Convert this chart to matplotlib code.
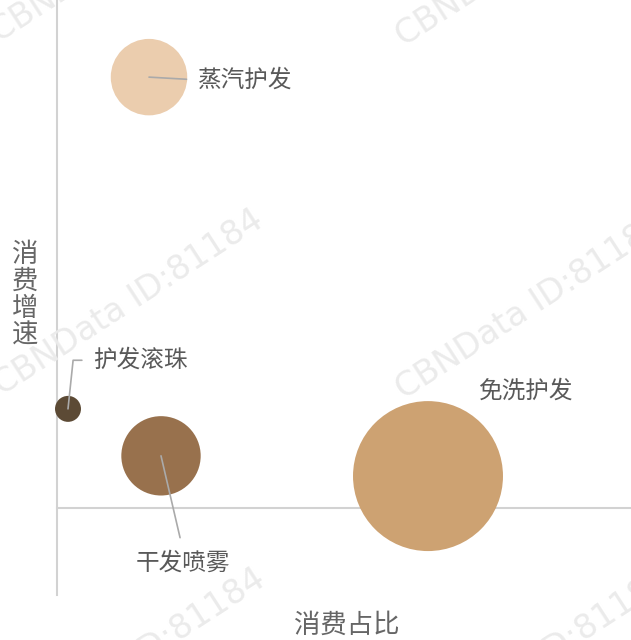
import numpy as np
import matplotlib.pyplot as plt

plt.rcParams['font.family'] = ['Noto Sans CJK SC', 'DejaVu Sans']

# bubble data
categories = ['蒸汽护发', '护发滚珠', '干发喷雾', '免洗护发']
share = [9.2, 1.1, 10.4, 37.1]        # 消费占比
growth = [100, 23, 12.1, 7.4]         # 消费增速
volume = [26, 3, 28, 100]             # bubble size
colors = ['#ebcdae', '#5c4a35', '#98714d', '#cda272']

fig = plt.figure(figsize=(6.31, 6.40), dpi=100)
ax = fig.add_axes([57 / 631, 45 / 640, 574 / 631, 595 / 640])

# watermarks (partly outside the canvas, as in the source image)
for cx, cy in [(125, -50), (530, -46), (128, 303), (530, 307), (130, 662), (535, 662)]:
    fig.text(cx / 631, 1 - cy / 640, 'CBNData ID:81184', rotation=33,
             fontsize=24, color='#ebebeb', ha='center', va='center',
             family='DejaVu Sans', zorder=0)

ax.scatter(share, growth, s=np.array(volume) * 116.6, c=colors,
           linewidths=0, zorder=3, clip_on=False)

ax.set_xlim(0, 57.4)
ax.set_ylim(-20.2, 117.9)
ax.set_xticks([])
ax.set_yticks([])
for side in ['top', 'right']:
    ax.spines[side].set_visible(False)
ax.spines['bottom'].set_position(('data', 0))
for side in ['left', 'bottom']:
    ax.spines[side].set_color('#d2d2d2')
    ax.spines[side].set_linewidth(1.5)
ax.patch.set_alpha(0)

lead = dict(arrowstyle='-', color='#aaaaaa', lw=1.2)
txt = dict(fontsize=17, color='#595959', textcoords='offset points', zorder=5)

# 蒸汽护发
ax.annotate(categories[0], xy=(share[0], growth[0]), xytext=(35, -2),
            ha='left', va='center',
            arrowprops=dict(lead, relpos=(0, 0.5), shrinkA=6, shrinkB=0), **txt)
# 护发滚珠
ax.annotate(categories[1], xy=(share[1], growth[1]), xytext=(18, 35),
            ha='left', va='center',
            arrowprops=dict(lead, relpos=(0, 0.5), shrinkA=6, shrinkB=0,
                            connectionstyle='angle,angleA=0,angleB=84,rad=0'), **txt)
# 干发喷雾
ax.annotate(categories[2], xy=(share[2], growth[2]), xytext=(16, -77),
            ha='center', va='center',
            arrowprops=dict(lead, relpos=(0.5, 1), shrinkA=8, shrinkB=0), **txt)
# 免洗护发
ax.annotate(categories[3], xy=(share[3], growth[3]), xytext=(70, 61),
            ha='center', va='center', **txt)

# axis titles
fig.text(347 / 631, 1 - 625 / 640, '消费占比', fontsize=19,
         color='#666666', ha='center', va='center')
fig.text(25 / 631, 1 - 295 / 640, '\n'.join('消费增速'), fontsize=19,
         color='#666666', ha='center', va='center', linespacing=1.0)

fig.savefig('out.png', dpi=100)
